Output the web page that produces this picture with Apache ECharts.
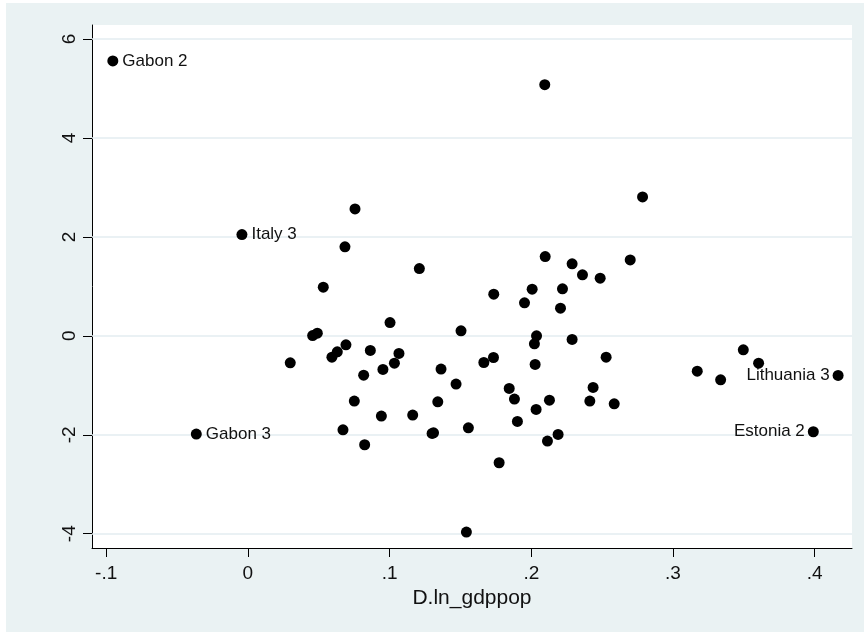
<!DOCTYPE html>
<html>
<head>
<meta charset="utf-8">
<script src="https://cdn.jsdelivr.net/npm/echarts@6/dist/echarts.min.js"></script>
<style>
  html, body { margin: 0; padding: 0; background: #fff; }
  #chart { position: absolute; left: 6px; top: 3px; width: 858px; height: 629px; background: #eaf2f3; }
</style>
</head>
<body>
<div id="chart"></div>
<script>
// x = D.ln_gdppop, y = residual
const xVals = [
  -0.0953, -0.0042, -0.0364, 0.4165, 0.3990,
  0.0756, 0.0685, 0.0532, 0.1210, 0.1003, 0.2095, 0.2785, 0.2098, 0.2288, 0.2361,
  0.2486, 0.2698, 0.1735, 0.2006, 0.2220, 0.1952, 0.2206, 0.1504, 0.0457, 0.0490,
  0.0299, 0.0593, 0.0631, 0.0692, 0.0864, 0.1066, 0.1034, 0.0953, 0.0817, 0.1363,
  0.1469, 0.1665, 0.1733, 0.0751, 0.0942, 0.1163, 0.1340, 0.0671, 0.1300, 0.1556,
  0.0824, 0.1542, 0.2037, 0.2022, 0.2288, 0.2528, 0.2027, 0.1844, 0.1881, 0.2128,
  0.2034, 0.1902, 0.2436, 0.2413, 0.2585, 0.2189, 0.2114, 0.1773, 0.3171, 0.3336,
  0.3496, 0.3604, 0.1310
]
const yVals = [
  5.556, 2.047, -1.986, -0.801, -1.939,
  2.566, 1.798, 0.983, 1.360, 0.269, 5.077, 2.808, 1.602, 1.455, 1.232,
  1.165, 1.535, 0.842, 0.943, 0.949, 0.667, 0.559, 0.101, 0.006, 0.054,
  -0.545, -0.431, -0.323, -0.182, -0.296, -0.357, -0.552, -0.680, -0.795, -0.673,
  -0.976, -0.539, -0.438, -1.320, -1.623, -1.603, -1.333, -1.899, -1.973, -1.859,
  -2.202, -3.966, 0.000, -0.162, -0.074, -0.431, -0.579, -1.064, -1.279, -1.300,
  -1.488, -1.731, -1.044, -1.320, -1.374, -1.993, -2.128, -2.566, -0.714, -0.889,
  -0.283, -0.552, -1.960
]
const pointLabels = ['Gabon 2', 'Italy 3', 'Gabon 3', 'Lithuania 3', 'Estonia 2']
const xTicks = [-0.1, 0, 0.1, 0.2, 0.3, 0.4]
const yTicks = [-4, -2, 0, 2, 4, 6]
const xTitle = 'D.ln_gdppop'

const leftLabelled = ['Lithuania 3', 'Estonia 2']
const fontFamily = "'Liberation Sans', Arial, sans-serif"

const fmt = v => {
  if (v === 0) return '0'
  const s = String(v)
  return s.replace(/^(-?)0\./, '$1.')
}

const points = xVals.map((x, i) => {
  const name = pointLabels[i] || ''
  const item = { value: [x, yVals[i]], name }
  if (name) {
    item.label = {
      show: true,
      formatter: name,
      position: leftLabelled.includes(name) ? 'left' : 'right',
      distance: leftLabelled.includes(name) ? 3 : 4
    }
  }
  return item
})

const chart = echarts.init(document.getElementById('chart'), null, { renderer: 'canvas' })

const option = {
  backgroundColor: 'transparent',
  animation: false,
  textStyle: { fontFamily },
  grid: {
    left: 86, top: 22, right: 12, bottom: 84,
    show: true, backgroundColor: '#ffffff', borderWidth: 0,
    containLabel: false, outerBoundsMode: 'none'
  },
  xAxis: {
    type: 'value',
    min: -0.11, max: 0.4263,
    name: xTitle,
    nameLocation: 'middle',
    nameGap: 36,
    nameTextStyle: { color: '#111', fontSize: 21, fontFamily },
    axisLine: { show: true, onZero: false, lineStyle: { color: '#000', width: 1 } },
    axisTick: { show: true, length: 9, customValues: xTicks, lineStyle: { color: '#000', width: 1 } },
    axisLabel: { show: true, customValues: xTicks, formatter: fmt, margin: 16, color: '#111', fontSize: 19, fontFamily },
    splitLine: { show: false }
  },
  yAxis: {
    type: 'value',
    min: -4.289, max: 6.283,
    axisLine: { show: true, onZero: false, lineStyle: { color: '#000', width: 1 } },
    axisTick: { show: true, length: 9, customValues: yTicks, lineStyle: { color: '#000', width: 1 } },
    axisLabel: { show: true, customValues: yTicks, rotate: 90, margin: 13, color: '#111', fontSize: 19, fontFamily },
    splitLine: { show: false }
  },
  series: [
    {
      // gridlines at the y ticks
      type: 'scatter',
      data: [],
      z: 1,
      silent: true,
      markLine: {
        z: 1,
        silent: true,
        symbol: 'none',
        label: { show: false },
        lineStyle: { color: '#e3edf0', width: 1.5, type: 'solid' },
        data: yTicks.map(v => ({ yAxis: v }))
      }
    },
    {
      type: 'scatter',
      z: 3,
      symbol: 'circle',
      symbolSize: 11,
      itemStyle: { color: '#000', opacity: 1 },
      label: { color: '#111', fontSize: 17, fontFamily },
      data: points
    }
  ]
}

chart.setOption(option)
window.addEventListener('resize', () => chart.resize())
</script>
</body>
</html>
